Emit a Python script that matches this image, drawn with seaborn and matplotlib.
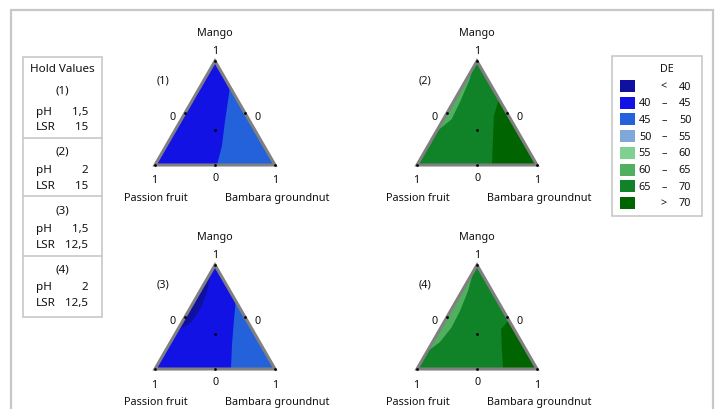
import numpy as np
import matplotlib
matplotlib.use("Agg")
import matplotlib.pyplot as plt
from matplotlib.patches import Polygon, Rectangle
import seaborn as sns

# DE classes (legend order) and their colours
de_lo = ["", "40", "45", "50", "55", "60", "65", ""]
de_sign = ["<", "–", "–", "–", "–", "–", "–", ">"]
de_hi = ["40", "45", "50", "55", "60", "65", "70", "70"]
de_hex = ["#1010a0", "#1212e4", "#2462dc", "#80a8d8", "#80d092", "#50b060", "#108228", "#006400"]

# hold values per panel
hold_ph = ["1,5", "2", "1,5", "2"]
hold_lsr = ["15", "15", "12,5", "12,5"]

# contour regions, points as (mango, bambara) fractions
panel_base = [1, 6, 1, 6]
panel_regions = [
    [(2, [(0.75, 0.25), (0.41, 0.377), (0.18, 0.467), (0.0, 0.517), (0.0, 1.0)])],
    [(5, [(0.92, 0.0), (0.83, 0.026), (0.61, 0.055), (0.44, 0.068), (0.32, 0.0)]),
     (7, [(0.635, 0.365), (0.47, 0.406), (0.28, 0.494), (0.0, 0.625), (0.0, 1.0)])],
    [(0, [(0.93, 0.0), (0.75, 0.06), (0.6, 0.088), (0.45, 0.08), (0.37, 0.0)]),
     (2, [(0.654, 0.346), (0.46, 0.427), (0.24, 0.522), (0.0, 0.633), (0.0, 1.0)])],
    [(5, [(0.94, 0.0), (0.75, 0.05), (0.56, 0.079), (0.4, 0.088), (0.26, 0.062),
          (0.19, 0.015), (0.16, 0.0)]),
     (7, [(0.47, 0.53), (0.385, 0.508), (0.19, 0.612), (0.0, 0.717), (0.0, 1.0)])],
]

# simplex-centroid design points (mango, bambara)
design_m = [1, 0, 0, 0.5, 0.5, 0, 1 / 3]
design_b = [0, 0, 1, 0, 0.5, 0.5, 1 / 3]

components = ["Mango", "Passion fruit", "Bambara groundnut"]

sns.set_theme(style="white")
plt.rcParams["font.family"] = ["Noto Sans", "DejaVu Sans"]
palette = sns.color_palette(de_hex)
txt = "#111111"
fs = 7.8
fs_tab = 8.4

H = np.sqrt(3) / 2


def tern(m, b):
    m = np.asarray(m, float)
    b = np.asarray(b, float)
    return b + m / 2, m * H


W, HT = 718, 410
fig = plt.figure(figsize=(W / 100, HT / 100), dpi=100)

# overlay axes in pixel units for frame, hold table, legend
ov = fig.add_axes([0, 0, 1, 1])
ov.set_xlim(0, W)
ov.set_ylim(HT, 0)
ov.axis("off")
frame = "#c8c8c8"
ov.plot([11, 11, 713, 713], [412, 11, 11, 412], color=frame, lw=1.6, solid_joinstyle="miter")

# hold values table
ov.add_patch(Rectangle((23, 58), 79, 260, fill=False, ec=frame, lw=1.2))
for yy in [139, 197, 257]:
    ov.plot([23, 102], [yy, yy], color=frame, lw=1.2)
ov.text(62, 69, "Hold Values", ha="center", va="center", fontsize=fs_tab, color=txt)
sec_y = [(91, 112, 128), (152, 171, 187), (211, 230, 246), (270, 288, 304)]
for k, (y0, y1, y2) in enumerate(sec_y):
    ov.text(62, y0, f"({k + 1})", ha="center", va="center", fontsize=fs_tab, color=txt)
    ov.text(36, y1, "pH", ha="left", va="center", fontsize=fs_tab, color=txt)
    ov.text(88, y1, hold_ph[k], ha="right", va="center", fontsize=fs_tab, color=txt)
    ov.text(36, y2, "LSR", ha="left", va="center", fontsize=fs_tab, color=txt)
    ov.text(88, y2, hold_lsr[k], ha="right", va="center", fontsize=fs_tab, color=txt)

# DE legend
ov.add_patch(Rectangle((612, 57), 90, 160, fill=False, ec=frame, lw=1.2))
ov.text(667, 69, "DE", ha="center", va="center", fontsize=fs, color=txt)
for i in range(len(de_hex)):
    yc = 87 + i * 16.7
    ov.add_patch(Rectangle((620, yc - 6), 15, 12, fc=palette[i], ec="none"))
    if de_lo[i]:
        ov.text(645, yc, de_lo[i], ha="center", va="center", fontsize=fs, color=txt)
    ov.text(664, yc, de_sign[i], ha="center", va="center", fontsize=fs, color=txt)
    ov.text(685, yc, de_hi[i], ha="center", va="center", fontsize=fs, color=txt)

# ternary panels
scale = 120.0
xl, xr, yb, yt = -0.45, 1.45, -0.33, 1.2
origins = [(155, 166), (417, 166), (155, 370), (417, 370)]
for k, (px, py) in enumerate(origins):
    left = px + xl * scale
    bottom = py - yb * scale
    ax = fig.add_axes([left / W, (HT - bottom) / HT, (xr - xl) * scale / W, (yt - yb) * scale / HT])
    ax.set_xlim(xl, xr)
    ax.set_ylim(yb, yt)
    ax.axis("off")

    tx, ty = tern([1, 0, 0], [0, 0, 1])
    ax.add_patch(Polygon(np.c_[tx, ty], closed=True, fc=palette[panel_base[k]], ec="none", zorder=1))
    for cls, pts in panel_regions[k]:
        m, b = zip(*pts)
        rx, ry = tern(m, b)
        ax.add_patch(Polygon(np.c_[rx, ry], closed=True, fc=palette[cls], ec="none", zorder=2))
    ax.add_patch(Polygon(np.c_[tx, ty], closed=True, fill=False, ec="#808080", lw=2.2,
                         joinstyle="miter", zorder=3, clip_on=False))
    dx, dy = tern(design_m, design_b)
    ax.scatter(dx, dy, s=4, color="black", zorder=4, clip_on=False, linewidths=0)

    kw = dict(fontsize=fs, color=txt, ha="center", va="center")
    ax.text(0.5, 1.108, components[0], **kw)
    ax.text(0.5, 0.95, "1", **kw)
    ax.text(0.067, 0.708, f"({k + 1})", **kw)
    ax.text(0.15, 0.408, "0", **kw)
    ax.text(0.858, 0.408, "0", **kw)
    ax.text(-0.01, -0.125, "1", **kw)
    ax.text(0.508, -0.108, "0", **kw)
    ax.text(1.0, -0.125, "1", **kw)
    ax.text(0.01, -0.267, components[1], **kw)
    ax.text(1.02, -0.267, components[2], **kw)

fig.savefig("out.png", dpi=100, facecolor="white")
